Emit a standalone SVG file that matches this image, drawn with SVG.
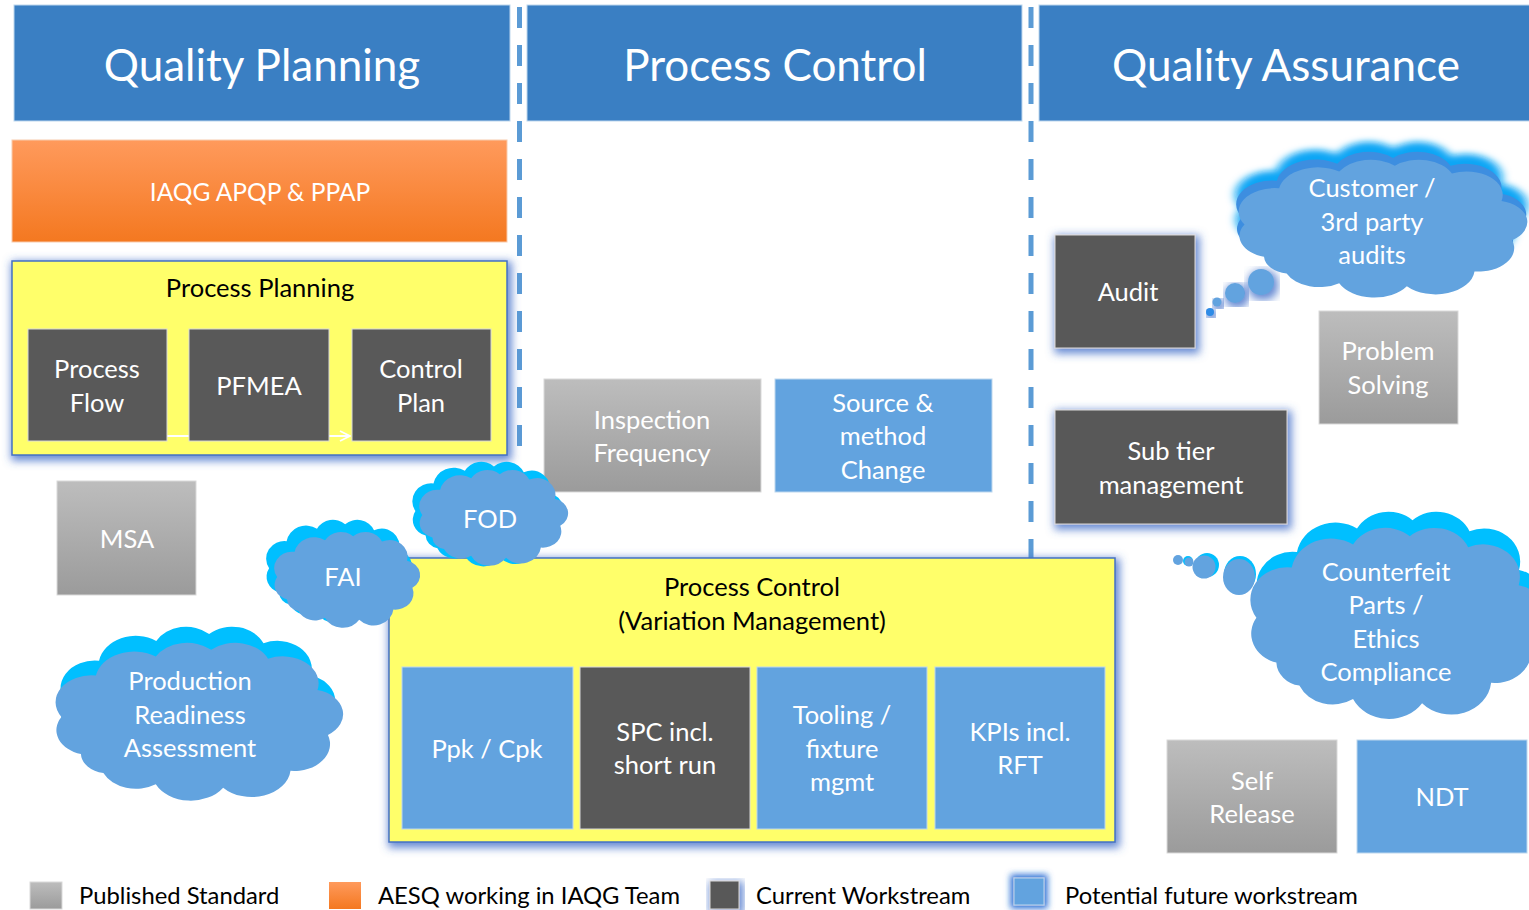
<svg xmlns="http://www.w3.org/2000/svg" xmlns:xlink="http://www.w3.org/1999/xlink" width="1529" height="910" viewBox="0 0 1529 910">
<style>
text{font-family:Lato,"Liberation Sans",sans-serif;font-size:25.5px;text-anchor:middle;fill:#fff}
.h{font-size:44px}
.k{fill:#000}
.lg{fill:#000;text-anchor:start;font-size:23.8px}
.hdr{fill:#3A7FC3;stroke:#BDD7EE;stroke-width:1}
.blue{fill:#62A3DF;stroke:#BDD7EE;stroke-width:1}
.dark{fill:#595959;stroke:#D9D9D9;stroke-width:1}
.gray{fill:url(#gGray);stroke:#D9D9D9;stroke-width:1}
.yel{fill:#FFFF6B;stroke:#4472C4;stroke-width:1.5}
.sep{stroke:#5B9BD5;stroke-width:5;stroke-dasharray:21 17;fill:none}
.cy{fill:#00BFFF}
.cb{fill:#62A3DF}
</style>
<defs>
<linearGradient id="gGray" x1="0" y1="0" x2="0" y2="1"><stop offset="0" stop-color="#BDBDBD"/><stop offset="1" stop-color="#9B9B9B"/></linearGradient>
<linearGradient id="gOr" x1="0" y1="0" x2="0" y2="1"><stop offset="0" stop-color="#FF9A5C"/><stop offset="1" stop-color="#F47820"/></linearGradient>
<filter id="glow" x="-20%" y="-20%" width="140%" height="140%">
<feMorphology in="SourceAlpha" operator="dilate" radius="2" result="d"/>
<feGaussianBlur in="d" stdDeviation="4" result="b"/>
<feOffset in="b" dx="2" dy="3" result="o"/>
<feFlood flood-color="#3F6CC8" flood-opacity="0.8"/>
<feComposite in2="o" operator="in" result="s"/>
<feMerge><feMergeNode in="s"/><feMergeNode in="SourceGraphic"/></feMerge>
</filter>
<filter id="glow2" x="-40%" y="-40%" width="180%" height="180%">
<feMorphology in="SourceAlpha" operator="dilate" radius="3" result="d"/>
<feGaussianBlur in="d" stdDeviation="3" result="b"/>
<feFlood flood-color="#1560D0" flood-opacity="0.9"/>
<feComposite in2="b" operator="in" result="s"/>
<feMerge><feMergeNode in="s"/><feMergeNode in="SourceGraphic"/></feMerge>
</filter>
<filter id="soft" x="-20%" y="-20%" width="140%" height="140%">
<feGaussianBlur stdDeviation="3"/>
</filter>
<path id="cloud" d="M25,105 A22,22 0 0 1 12,72 A24,24 0 0 1 35,35 A26,26 0 0 1 75,18 A24,24 0 0 1 112,12 A24,24 0 0 1 150,20 A24,24 0 0 1 183,48 A22,22 0 0 1 190,88 A24,24 0 0 1 165,120 A26,26 0 0 1 120,135 A26,26 0 0 1 75,132 A24,24 0 0 1 40,122 A18,18 0 0 1 25,105 Z"/>
<marker id="arr" viewBox="0 0 12 12" refX="11" refY="6" markerWidth="12" markerHeight="12" markerUnits="userSpaceOnUse" orient="auto">
<path d="M1,1 L11,6 L1,11" fill="none" stroke="#fff" stroke-width="1.8"/>
</marker>
</defs>

<rect width="1529" height="910" fill="#fff"/>

<g id="separators">
<line class="sep" x1="519.5" y1="7" x2="519.5" y2="452"/>
<line class="sep" x1="1031" y1="7" x2="1031" y2="560"/>
</g>

<g id="hdr-qp"><rect class="hdr" x="14" y="5" width="496" height="116"/><text class="h" x="262" y="81">Quality Planning</text></g>
<g id="hdr-pc"><rect class="hdr" x="527" y="5" width="495" height="116"/><text class="h" x="775" y="81">Process Control</text></g>
<g id="hdr-qa"><rect class="hdr" x="1039" y="5" width="492" height="116"/><text class="h" x="1286" y="81">Quality Assurance</text></g>

<g id="iaqg"><rect x="12" y="140" width="495" height="102" fill="url(#gOr)" stroke="#F8CBAD" stroke-width="1"/><text x="260" y="201" style="font-size:24.5px">IAQG APQP &amp; PPAP</text></g>

<g id="process-planning"><rect class="yel" x="12" y="261" width="495" height="194" filter="url(#glow)"/><text class="k" x="260" y="297">Process Planning</text></g>

<g id="connectors">
<line x1="160" y1="436" x2="350" y2="436" stroke="#fff" stroke-width="2" marker-end="url(#arr)"/>
</g>

<g id="process-flow"><rect class="dark" x="28" y="329" width="139" height="112"/><text x="97" y="378">Process</text><text x="97" y="412">Flow</text></g>
<g id="pfmea"><rect class="dark" x="189" y="329" width="140" height="112"/><text x="259" y="395">PFMEA</text></g>
<g id="control-plan"><rect class="dark" x="352" y="329" width="139" height="112"/><text x="421" y="378">Control</text><text x="421" y="412">Plan</text></g>

<g id="msa"><rect class="gray" x="57" y="481" width="139" height="114"/><text x="127" y="548">MSA</text></g>

<g id="inspection-frequency"><rect class="gray" x="544" y="379" width="217" height="113"/><text x="652" y="429">Inspection</text><text x="652" y="462">Frequency</text></g>
<g id="source-method-change"><rect class="blue" x="775" y="379" width="217" height="113"/><text x="883" y="412">Source &amp;</text><text x="883" y="445">method</text><text x="883" y="479">Change</text></g>

<g id="process-control-vm"><rect class="yel" x="389" y="558" width="726" height="284" filter="url(#glow)"/><text class="k" x="752" y="596">Process Control</text><text class="k" x="752" y="630">(Variation Management)</text></g>
<g id="ppk-cpk"><rect class="blue" x="402" y="667" width="171" height="162"/><text x="487" y="758">Ppk / Cpk</text></g>
<g id="spc"><rect class="dark" x="580" y="667" width="170" height="162"/><text x="665" y="741">SPC incl.</text><text x="665" y="774">short run</text></g>
<g id="tooling"><rect class="blue" x="757" y="667" width="170" height="162"/><text x="842" y="724">Tooling /</text><text x="842" y="758">fixture</text><text x="842" y="791">mgmt</text></g>
<g id="kpis"><rect class="blue" x="935" y="667" width="170" height="162"/><text x="1020" y="741">KPIs incl.</text><text x="1020" y="774">RFT</text></g>

<g id="fod">
<use xlink:href="#cloud" class="cy" transform="translate(406,457.5) scale(0.785,0.743)"/>
<use xlink:href="#cloud" class="cb" transform="translate(413,466) scale(0.775,0.68)"/>
<text x="490" y="528">FOD</text>
</g>
<g id="fai">
<use xlink:href="#cloud" class="cy" transform="translate(260,515.6) scale(0.76,0.73)"/>
<use xlink:href="#cloud" class="cb" transform="translate(268,528) scale(0.76,0.68)"/>
<text x="343" y="586">FAI</text>
</g>
<g id="production-readiness">
<use xlink:href="#cloud" class="cy" transform="translate(49,620) scale(1.43,1.164)"/>
<use xlink:href="#cloud" class="cb" transform="translate(43.5,636.3) scale(1.497,1.121)"/>
<text x="190" y="690">Production</text><text x="190" y="724">Readiness</text><text x="190" y="757">Assessment</text>
</g>

<g id="audit"><rect class="dark" x="1055" y="235" width="140" height="113" filter="url(#glow)"/><text x="1128" y="301">Audit</text></g>
<g id="customer-audits">
<circle cx="1210" cy="312" r="4" fill="#2E8BE6" filter="url(#glow)"/>
<circle cx="1217" cy="302" r="4.5" class="cb" filter="url(#glow)"/>
<circle cx="1235" cy="293" r="10" class="cb" filter="url(#glow)"/>
<circle cx="1261" cy="282" r="13" class="cb" filter="url(#glow)"/>
<use xlink:href="#cloud" fill="#0FA6F5" transform="translate(1223,136) scale(1.52,1.0)" filter="url(#soft)"/>
<use xlink:href="#cloud" fill="#3D8EE0" transform="translate(1224,146) scale(1.51,0.99)"/>
<use xlink:href="#cloud" class="cb" transform="translate(1226.5,154) scale(1.503,0.979)"/>
<text x="1372" y="197">Customer /</text><text x="1372" y="231">3rd party</text><text x="1372" y="264">audits</text>
</g>
<g id="problem-solving"><rect class="gray" x="1319" y="311" width="139" height="113"/><text x="1388" y="360">Problem</text><text x="1388" y="394">Solving</text></g>
<g id="sub-tier"><rect class="dark" x="1055" y="410" width="232" height="114" filter="url(#glow)"/><text x="1171" y="460">Sub tier</text><text x="1171" y="494">management</text></g>

<g id="counterfeit">
<circle cx="1178" cy="560" r="5" class="cb"/>
<circle cx="1188" cy="561" r="5" class="cy"/>
<circle cx="1189" cy="562" r="4.5" class="cb"/>
<circle cx="1207" cy="565" r="12" class="cy"/>
<circle cx="1204" cy="567" r="11.5" class="cb"/>
<ellipse cx="1240" cy="574" rx="16" ry="18" class="cy"/>
<ellipse cx="1239" cy="577" rx="16" ry="18" class="cb"/>
<use xlink:href="#cloud" class="cy" transform="translate(1244.5,503.7) scale(1.5,1.38)"/>
<use xlink:href="#cloud" class="cb" transform="translate(1238,520) scale(1.534,1.357)"/>
<text x="1386" y="581">Counterfeit</text><text x="1386" y="614">Parts  /</text><text x="1386" y="648">Ethics</text><text x="1386" y="681">Compliance</text>
</g>

<g id="self-release"><rect class="gray" x="1167" y="740" width="170" height="113"/><text x="1252" y="790">Self</text><text x="1252" y="823">Release</text></g>
<g id="ndt"><rect class="blue" x="1357" y="740" width="170" height="113"/><text x="1442" y="806">NDT</text></g>

<g id="legend">
<rect class="gray" x="30" y="882" width="32" height="27"/><text class="lg" x="79" y="904">Published Standard</text>
<rect x="329" y="882" width="32" height="27" fill="url(#gOr)"/><text class="lg" x="378" y="904">AESQ working in IAQG Team</text>
<rect class="dark" x="710" y="881" width="29" height="28" filter="url(#glow)"/><text class="lg" x="756" y="904">Current Workstream</text>
<rect class="blue" x="1014" y="878" width="30" height="27" filter="url(#glow2)"/><text class="lg" x="1065" y="904">Potential future workstream</text>
</g>
</svg>
